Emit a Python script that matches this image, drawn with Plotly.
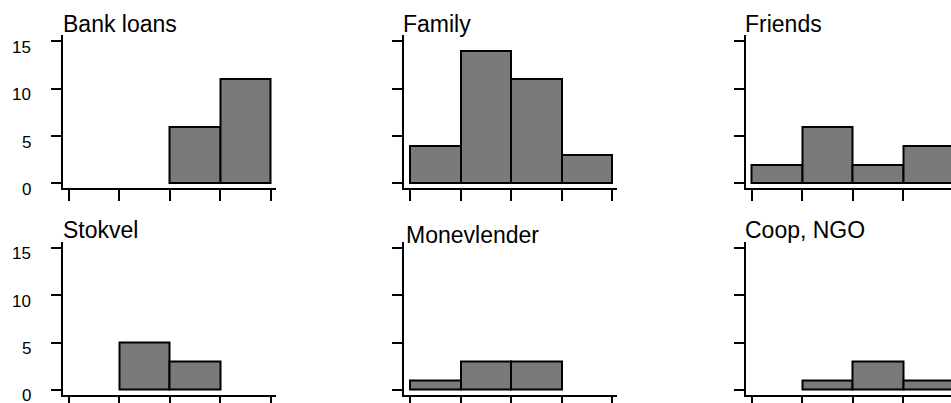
import plotly.graph_objects as go

# Counts per bin (4 bins, edges at 0..4) for each source of credit
bin_edges = [0, 1, 2, 3, 4]
bin_centers = [0.5, 1.5, 2.5, 3.5]

bank_loans = [0, 0, 6, 11]
family = [4, 14, 11, 3]
friends = [2, 6, 2, 4]
stokvel = [0, 5, 3, 0]
moneylender = [1, 3, 3, 0]
coop_ngo = [0, 1, 3, 1]

panel_titles = ["Bank loans", "Family", "Friends", "Stokvel", "Monevlender", "Coop, NGO"]
panel_counts = [bank_loans, family, friends, stokvel, moneylender, coop_ngo]
y_ticks = [0, 5, 10, 15]
y_tick_labels = ["0", "5", "10", "15"]

W, H = 951, 403
FONT = "Liberation Sans, Arial, sans-serif"
BAR_FILL = "rgb(122,122,122)"

# panel geometry in pixels
col_left = [62.5, 404.0, 745.5]
col_width = 213.0
row_top = [35.0, 241.5]
row_height = 153.0
px_per_bin = 50.5
x_lo = -0.12
y_range = [-0.48, 15.68]

# title anchor positions (left x, centre y) in pixels
title_pos = [(61, 24), (401, 24), (743, 24),
             (61, 230), (404, 235), (743, 230)]
# right edge of the y tick labels (px) and their drop below the tick (px)
ylabel_right = 33
ylabel_drop = 6

fig = go.Figure()
annotations = []

for i, (title, counts) in enumerate(zip(panel_titles, panel_counts)):
    r, c = divmod(i, 3)
    n = i + 1
    xa = "x" if n == 1 else f"x{n}"
    ya = "y" if n == 1 else f"y{n}"

    xs = [bc for bc, v in zip(bin_centers, counts) if v > 0]
    ys = [v for v in counts if v > 0]
    fig.add_trace(go.Bar(
        x=xs, y=ys, width=1.0, xaxis=xa, yaxis=ya,
        marker=dict(color=BAR_FILL, line=dict(color="black", width=2)),
        showlegend=False, hoverinfo="skip",
    ))

    left = col_left[c]
    right = min(left + col_width, W)
    x_hi = x_lo + (right - left) / px_per_bin
    top = row_top[r]
    bottom = top + row_height

    xkey = "xaxis" if n == 1 else f"xaxis{n}"
    ykey = "yaxis" if n == 1 else f"yaxis{n}"
    fig.layout[xkey] = dict(
        domain=[left / W, right / W], range=[x_lo, x_hi], anchor=ya,
        tickvals=bin_edges, showticklabels=False, ticks="outside",
        ticklen=11, tickwidth=2, tickcolor="black",
        showline=True, linewidth=2, linecolor="black",
        showgrid=False, zeroline=False, fixedrange=True, automargin=False,
    )
    fig.layout[ykey] = dict(
        domain=[1 - bottom / H, 1 - top / H], range=y_range, anchor=xa,
        tickvals=y_ticks, showticklabels=False, ticks="outside",
        ticklen=10, tickwidth=2, tickcolor="black",
        showline=True, linewidth=2, linecolor="black",
        showgrid=False, zeroline=False, fixedrange=True, automargin=False,
    )

    # y tick labels for the left column, hung just below each tick
    if c == 0:
        for v, lab in zip(y_ticks, y_tick_labels):
            annotations.append(dict(
                text=lab, xref="paper", yref=ya, x=ylabel_right / W, y=v,
                yshift=-ylabel_drop, xanchor="right", yanchor="middle",
                showarrow=False,
                font=dict(family=FONT, size=17, color="black"),
            ))

    tx, ty = title_pos[i]
    annotations.append(dict(
        text=title, xref="paper", yref="paper", x=tx / W, y=1 - ty / H,
        xanchor="left", yanchor="middle", showarrow=False,
        font=dict(family=FONT, size=23, color="black"),
    ))

fig.update_layout(
    width=W, height=H, margin=dict(l=0, r=0, t=0, b=0, autoexpand=False),
    paper_bgcolor="white", plot_bgcolor="white",
    bargap=0, annotations=annotations,
    font=dict(family=FONT, color="black"),
)

fig.write_html("out.html", config={"displayModeBar": False})
